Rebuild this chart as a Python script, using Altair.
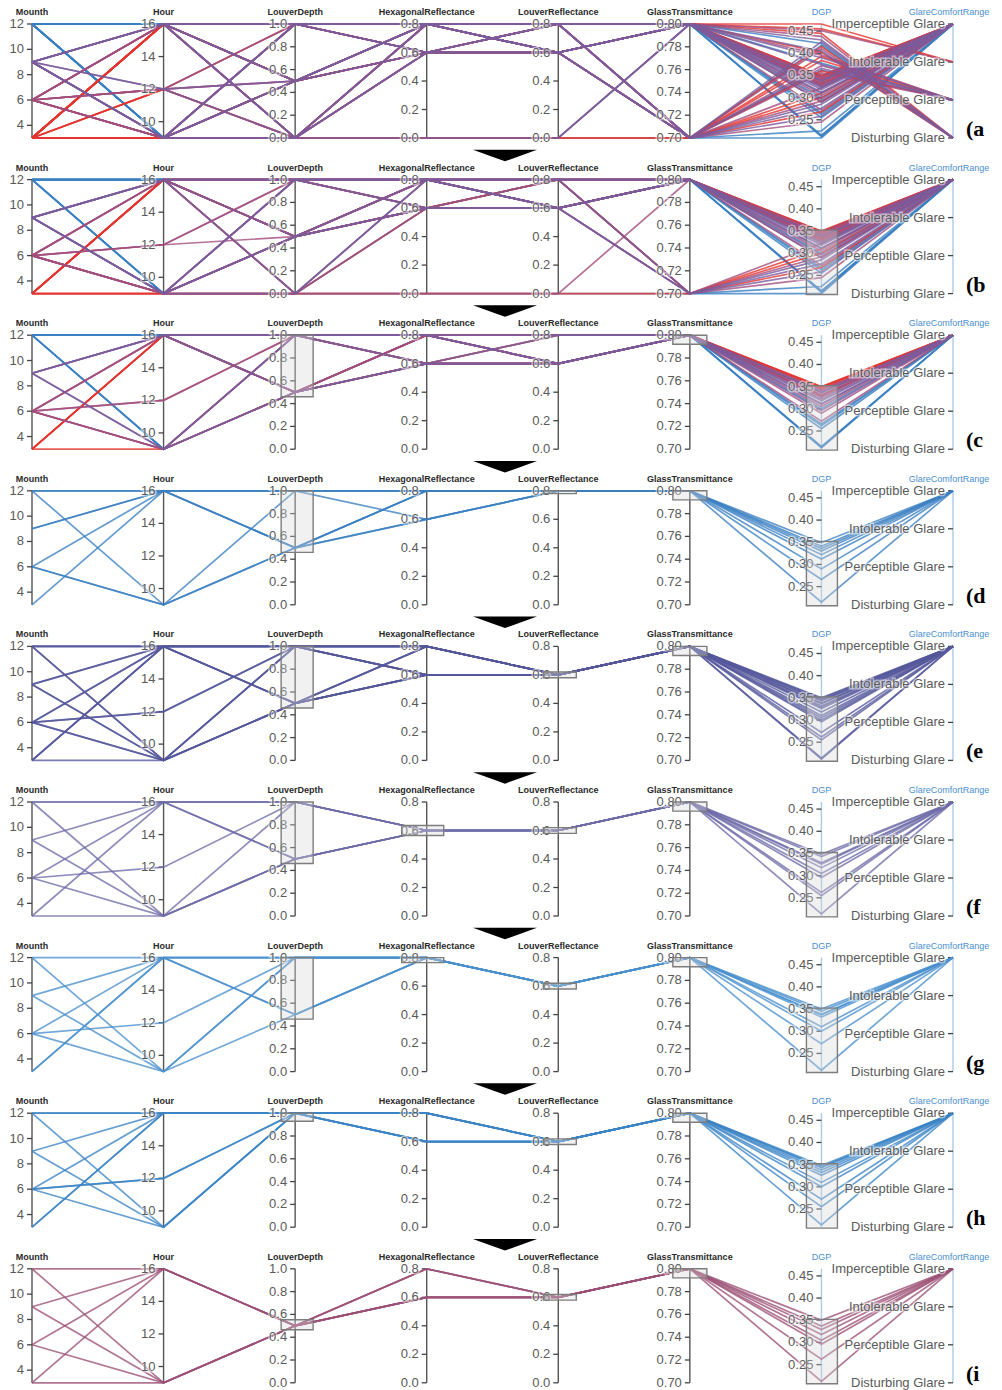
import altair as alt
import pandas as pd

DIMS = ["Mounth", "Hour", "LouverDepth", "HexagonalReflectance",
        "LouverReflectance", "GlassTransmittance", "DGP", "GlareComfortRange"]
DOMAINS = {
    "Mounth": [3, 12],
    "Hour": [9, 16],
    "LouverDepth": [0.0, 1.0],
    "HexagonalReflectance": [0.0, 0.8],
    "LouverReflectance": [0.0, 0.8],
    "GlassTransmittance": [0.70, 0.80],
    "DGP": [0.209, 0.466],
}
GLARE_ORDER = ["Imperceptible Glare", "Intolerable Glare", "Perceptible Glare", "Disturbing Glare"]
GLARE_CODES = {"Imp": "Imperceptible Glare", "Int": "Intolerable Glare",
               "Per": "Perceptible Glare", "Dis": "Disturbing Glare"}

# ---- simulation runs (one value per run) ----
MOUNTH = [12, 12, 9, 9, 6, 6, 6, 3, 12,
          12, 12, 12, 9, 9, 6, 6, 6, 6, 3, 3, 12, 12, 9, 9, 6, 6, 3, 3,
          12, 3, 6, 9, 3, 6, 9, 12, 3, 6, 9, 3, 12, 6, 9, 3,
          3, 3, 6, 3, 6, 9, 12, 3, 6, 9, 3, 12, 6, 9, 3, 12, 6, 9, 3, 6, 12, 9, 3, 9]
HOUR = [16, 9, 16, 16, 16, 9, 9, 16, 16,
        16, 16, 9, 16, 9, 16, 12, 12, 9, 16, 16, 16, 9, 16, 9, 16, 9, 16, 9,
        16, 16, 9, 9, 16, 16, 16, 9, 9, 12, 9, 16, 16, 9, 9, 9,
        16, 12, 16, 9, 12, 16, 16, 16, 9, 12, 12, 9, 16, 9, 9, 16, 12, 16, 16, 9, 9, 12, 12, 9]
LOUVER_DEPTH = [1.0, 0.5, 1.0, 1.0, 0.5, 1.0, 0.5, 0.5, 0.5,
                1.0, 1.0, 1.0, 1.0, 1.0, 1.0, 1.0, 1.0, 1.0, 1.0, 1.0, 0.5, 0.5, 0.5, 0.5, 0.5, 0.5, 0.5, 0.5,
                1.0, 1.0, 0.5, 1.0, 0.5, 0.0, 0.0, 0.0, 0.0, 0.5, 0.5, 0.0, 0.0, 0.0, 0.0, 0.0,
                0.0, 0.0, 0.0, 1.0, 0.5, 0.0, 0.0, 0.5, 0.0, 0.5, 1.0, 0.0, 1.0, 0.0, 0.5, 0.5, 0.0, 0.5,
                1.0, 1.0, 0.0, 0.0, 0.0, 1.0]
HEX_REFL = [0.8, 0.6, 0.6, 0.8, 0.8, 0.8, 0.8, 0.6, 0.8,
            0.8, 0.6, 0.6, 0.8, 0.8, 0.6, 0.8, 0.6, 0.8, 0.6, 0.8, 0.6, 0.8, 0.6, 0.6, 0.8, 0.6, 0.8, 0.6,
            0.8, 0.8, 0.6, 0.8, 0.6, 0.8, 0.6, 0.0, 0.0, 0.8, 0.8, 0.6, 0.8, 0.0, 0.8, 0.6,
            0.8, 0.6, 0.8, 0.8, 0.8, 0.6, 0.0, 0.6, 0.8, 0.8, 0.6, 0.8, 0.6, 0.0, 0.8, 0.6, 0.6, 0.8,
            0.8, 0.6, 0.8, 0.6, 0.0, 0.6]
LOUVER_REFL = [0.8, 0.8, 0.8, 0.8, 0.8, 0.8, 0.8, 0.8, 0.8,
               0.6, 0.6, 0.6, 0.6, 0.6, 0.6, 0.6, 0.6, 0.6, 0.6, 0.6, 0.6, 0.6, 0.6, 0.6, 0.6, 0.6, 0.6, 0.6,
               0.8, 0.8, 0.6, 0.6, 0.8, 0.8, 0.6, 0.0, 0.0, 0.6, 0.8, 0.6, 0.8, 0.0, 0.6, 0.8,
               0.8, 0.8, 0.6, 0.8, 0.8, 0.8, 0.0, 0.6, 0.8, 0.8, 0.6, 0.6, 0.8, 0.0, 0.6, 0.6, 0.6, 0.6,
               0.6, 0.8, 0.8, 0.6, 0.0, 0.8]
GLASS_TRANS = [0.8, 0.8, 0.8, 0.8, 0.8, 0.8, 0.8, 0.8, 0.8,
               0.8, 0.8, 0.8, 0.8, 0.8, 0.8, 0.8, 0.8, 0.8, 0.8, 0.8, 0.8, 0.8, 0.8, 0.8, 0.8, 0.8, 0.8, 0.8,
               0.7, 0.7, 0.7, 0.7, 0.7, 0.7, 0.7, 0.7, 0.7, 0.7, 0.7, 0.8, 0.8, 0.8, 0.8, 0.8,
               0.8, 0.8, 0.8, 0.8, 0.8, 0.8, 0.8, 0.7, 0.7, 0.8, 0.8, 0.7, 0.8, 0.8, 0.7, 0.8, 0.7, 0.7,
               0.7, 0.7, 0.7, 0.8, 0.7, 0.7]
DGP = [0.266, 0.215, 0.322, 0.312, 0.341, 0.330, 0.290, 0.349, 0.336,
       0.300, 0.255, 0.214, 0.338, 0.310, 0.343, 0.332, 0.326, 0.272, 0.348, 0.345,
       0.262, 0.212, 0.318, 0.296, 0.337, 0.305, 0.350, 0.329,
       0.209, 0.268, 0.245, 0.285, 0.300, 0.292, 0.276, 0.225, 0.310, 0.322, 0.258,
       0.340, 0.290, 0.347, 0.325, 0.333,
       0.466, 0.455, 0.451, 0.445, 0.438, 0.430, 0.422, 0.415, 0.410, 0.405, 0.402, 0.418,
       0.396, 0.390, 0.384, 0.378, 0.372, 0.366, 0.360, 0.356, 0.362, 0.375, 0.393, 0.426]
GLARE = (["Imp"] * 9 + ["Imp"] * 19 + ["Imp"] * 16 +
         ["Int", "Int", "Int", "Dis", "Dis", "Dis", "Dis", "Dis", "Dis", "Dis", "Dis", "Dis",
          "Per", "Per", "Per", "Per", "Per", "Per", "Per", "Per", "Per", "Per", "Per", "Dis"])

TICK_VALUES = {
    "Mounth": [4, 6, 8, 10, 12],
    "Hour": [10, 12, 14, 16],
    "LouverDepth": [0.0, 0.2, 0.4, 0.6, 0.8, 1.0],
    "HexagonalReflectance": [0.0, 0.2, 0.4, 0.6, 0.8],
    "LouverReflectance": [0.0, 0.2, 0.4, 0.6, 0.8],
    "GlassTransmittance": [0.70, 0.72, 0.74, 0.76, 0.78, 0.80],
    "DGP": [0.25, 0.30, 0.35, 0.40, 0.45],
    "GlareComfortRange": GLARE_ORDER,
}
TICK_FORMAT = {"Mounth": "{:.0f}", "Hour": "{:.0f}", "LouverDepth": "{:.1f}",
               "HexagonalReflectance": "{:.1f}", "LouverReflectance": "{:.1f}",
               "GlassTransmittance": "{:.2f}", "DGP": "{:.2f}"}

PANEL_LABELS = ["(a", "(b", "(c", "(d", "(e", "(f", "(g", "(h", "(i"]
DGP_BRUSH = [0.207, 0.352]
GT_BRUSH = [0.792, 0.80]
LR6 = [0.58, 0.62]
BRUSHES = [
    {},
    {"DGP": DGP_BRUSH},
    {"LouverDepth": [0.46, 1.0], "GlassTransmittance": GT_BRUSH, "DGP": DGP_BRUSH},
    {"LouverDepth": [0.46, 1.0], "LouverReflectance": [0.78, 0.80], "GlassTransmittance": GT_BRUSH, "DGP": DGP_BRUSH},
    {"LouverDepth": [0.46, 1.0], "LouverReflectance": LR6, "GlassTransmittance": GT_BRUSH, "DGP": DGP_BRUSH},
    {"LouverDepth": [0.46, 1.0], "HexagonalReflectance": [0.565, 0.635], "LouverReflectance": LR6,
     "GlassTransmittance": GT_BRUSH, "DGP": DGP_BRUSH},
    {"LouverDepth": [0.46, 1.0], "HexagonalReflectance": [0.765, 0.80], "LouverReflectance": LR6,
     "GlassTransmittance": GT_BRUSH, "DGP": DGP_BRUSH},
    {"LouverDepth": [0.93, 1.0], "LouverReflectance": LR6, "GlassTransmittance": GT_BRUSH, "DGP": DGP_BRUSH},
    {"LouverDepth": [0.465, 0.553], "LouverReflectance": LR6, "GlassTransmittance": GT_BRUSH, "DGP": DGP_BRUSH},
]

# ---- styles ----
W, H = 921, 114
PX = W / (len(DIMS) - 1)
LINE_COLOR = [None, None, None, "#3a7fc1", "#55579b", "#6e6ca8", "#4a90cd", "#3b84c5", "#9b4f75"]
MONTH_STOPS = [3, 6, 9, 12]
MONTH_COLORS = ["#e3342f", "#a34d7d", "#7a5b9c", "#3a80c2"]
DRAW_ORDER = {12: 0, 3: 1, 6: 2, 9: 3}
BRUSH_PAD = {"LouverDepth": (-14, 18), "HexagonalReflectance": (-25, 17),
             "LouverReflectance": (-15, 18), "GlassTransmittance": (-17, 17), "DGP": (-15, 16)}
ARROW = "M-1,-0.18 L1,-0.18 L0.42,0.03 L0,0.18 L-0.42,0.03 Z"
NDARK = len(DIMS) - 2

df = pd.DataFrame({
    "Mounth": MOUNTH, "Hour": HOUR, "LouverDepth": LOUVER_DEPTH,
    "HexagonalReflectance": HEX_REFL, "LouverReflectance": LOUVER_REFL,
    "GlassTransmittance": GLASS_TRANS, "DGP": DGP,
    "GlareComfortRange": [GLARE_CODES[g] for g in GLARE],
})
df = (df.assign(_o=df["Mounth"].map(DRAW_ORDER))
        .sort_values("_o", kind="stable").drop(columns="_o").reset_index(drop=True))

dims_js = "[" + ",".join(f"'{d}'" for d in DIMS) + "]"
glare_js = "[" + ",".join(f"'{g}'" for g in GLARE_ORDER) + "]"
IDX_EXPR = f"indexof({dims_js}, datum.key)"


def norm_expr(f):
    s = ""
    for k, (lo, hi) in DOMAINS.items():
        s += f"datum.key==='{k}' ? (datum['{f}']-({lo}))/(({hi})-({lo})) : "
    return s + f"1 - indexof({glare_js}, datum['{f}'])/{len(GLARE_ORDER) - 1}"


def pad_expr(j):
    s = ""
    for k, v in BRUSH_PAD.items():
        s += f"datum.key==='{k}' ? {v[j]} : "
    return s + "0"


XS = alt.Scale(domain=[0, len(DIMS) - 1], nice=False, zero=False)
YS = alt.Scale(domain=[0, 1], nice=False, zero=False)


def X(f):
    return alt.X(f, type="quantitative", scale=XS, axis=None)


def Y(f):
    return alt.Y(f, type="quantitative", scale=YS, axis=None)


tick_rows = []
for d in DIMS:
    for v in TICK_VALUES[d]:
        lab = v if d == "GlareComfortRange" else TICK_FORMAT[d].format(v)
        tick_rows.append({"key": d, "value": v, "label": lab})
ticks_df = pd.DataFrame(tick_rows)
axes_df = pd.DataFrame({"key": DIMS})


def panel(i):
    br = BRUSHES[i]
    base = alt.Chart(df)
    for k, (lo, hi) in br.items():
        base = base.transform_filter(alt.FieldRangePredicate(field=k, range=[lo, hi]))
    if LINE_COLOR[i] is None:
        color = alt.Color("Mounth", type="quantitative", legend=None,
                          scale=alt.Scale(domain=MONTH_STOPS, range=MONTH_COLORS))
        op = 0.8
    else:
        color = alt.value(LINE_COLOR[i])
        op = 0.78
    lines = (base.transform_window(rid="row_number()")
             .transform_fold(DIMS, as_=["key", "value"])
             .transform_calculate(idx=IDX_EXPR, norm=norm_expr("value"))
             .mark_line(strokeWidth=1.7, opacity=op)
             .encode(x=X("idx"), y=Y("norm"),
                     detail=alt.Detail("rid", type="nominal"),
                     order=alt.Order("idx", type="quantitative"),
                     color=color))

    axes_base = alt.Chart(axes_df).transform_calculate(idx=IDX_EXPR, y0="0", y1="1")
    rules_dark = axes_base.transform_filter(f"datum.idx < {NDARK}").mark_rule(
        strokeWidth=1.4, color="#555555").encode(x=X("idx"), y=Y("y0"), y2="y1")
    rules_blue = axes_base.transform_filter(f"datum.idx >= {NDARK}").mark_rule(
        strokeWidth=1.4, color="#a9cbe8").encode(x=X("idx"), y=Y("y0"), y2="y1")

    tbase = alt.Chart(ticks_df).transform_calculate(idx=IDX_EXPR, norm=norm_expr("value"))
    tmarks = tbase.mark_rule(strokeWidth=1.3, color="#444444", xOffset=-5, x2Offset=0).encode(
        x=X("idx"), x2="idx", y=Y("norm"))
    halo = tbase.mark_text(align="right", baseline="middle", dx=-8, fontSize=13,
                           font="Liberation Sans", color="white", stroke="white",
                           strokeWidth=3, strokeOpacity=0.7, opacity=0.7).encode(
        x=X("idx"), y=Y("norm"), text="label:N")
    tlabels = tbase.mark_text(align="right", baseline="middle", dx=-8, fontSize=13,
                              font="Liberation Sans", color="#5a5a5a").encode(
        x=X("idx"), y=Y("norm"), text="label:N")

    titles_dark = (axes_base.transform_filter(f"datum.idx < {NDARK}")
                   .mark_text(baseline="alphabetic", dy=-9, fontSize=9, fontWeight="bold",
                              font="Liberation Sans", color="#2a2a2a")
                   .encode(x=X("idx"), y=Y("y1"), text="key:N"))
    titles_blue = (axes_base.transform_filter(f"datum.idx >= {NDARK}")
                   .transform_calculate(tx=f"datum.idx + (datum.key==='GlareComfortRange' ? -4 : 0)/{PX}")
                   .mark_text(baseline="alphabetic", dy=-9, fontSize=9,
                              font="Liberation Sans", color="#4b8fd0")
                   .encode(x=X("tx"), y=Y("y1"), text="key:N"))

    layers = [rules_dark, rules_blue, tmarks, lines, halo, tlabels, titles_dark, titles_blue]

    if br:
        bdf = pd.DataFrame({"key": list(br.keys()),
                            "lo": [v[0] for v in br.values()],
                            "hi": [v[1] for v in br.values()]})
        brush = (alt.Chart(bdf)
                 .transform_calculate(idx=IDX_EXPR, ylo=norm_expr("lo"), yhi=norm_expr("hi"))
                 .transform_calculate(xl=f"datum.idx + ({pad_expr(0)})/{PX}",
                                      xr=f"datum.idx + ({pad_expr(1)})/{PX}")
                 .mark_rect(fill="#d6d6d6", fillOpacity=0.35, stroke="#7d7d7d", strokeWidth=1.4)
                 .encode(x=X("xl"), x2="xr", y=Y("ylo"), y2="yhi"))
        layers.append(brush)

    lab = alt.Chart(pd.DataFrame({"t": [PANEL_LABELS[i]]})).mark_text(
        align="left", baseline="alphabetic", font="Liberation Serif", fontWeight="bold",
        fontSize=22, color="black").encode(x=alt.value(W + 13), y=alt.value(H - 2), text="t:N")
    layers.append(lab)

    if i < len(PANEL_LABELS) - 1:
        arrow = alt.Chart(pd.DataFrame({"a": [1]})).mark_point(
            shape=ARROW, filled=True, size=4096, color="black", opacity=1).encode(
            x=alt.value(473), y=alt.value(H + 17.5))
        layers.append(arrow)

    return alt.layer(*layers).properties(width=W, height=H)


chart = (alt.vconcat(*[panel(i) for i in range(len(PANEL_LABELS))], spacing=41.6, bounds="flush")
         .properties(padding={"left": 1, "top": 0, "right": 0, "bottom": 0})
         .configure_view(stroke=None))

chart.save("out.html", embed_options={"renderer": "svg", "actions": False})
